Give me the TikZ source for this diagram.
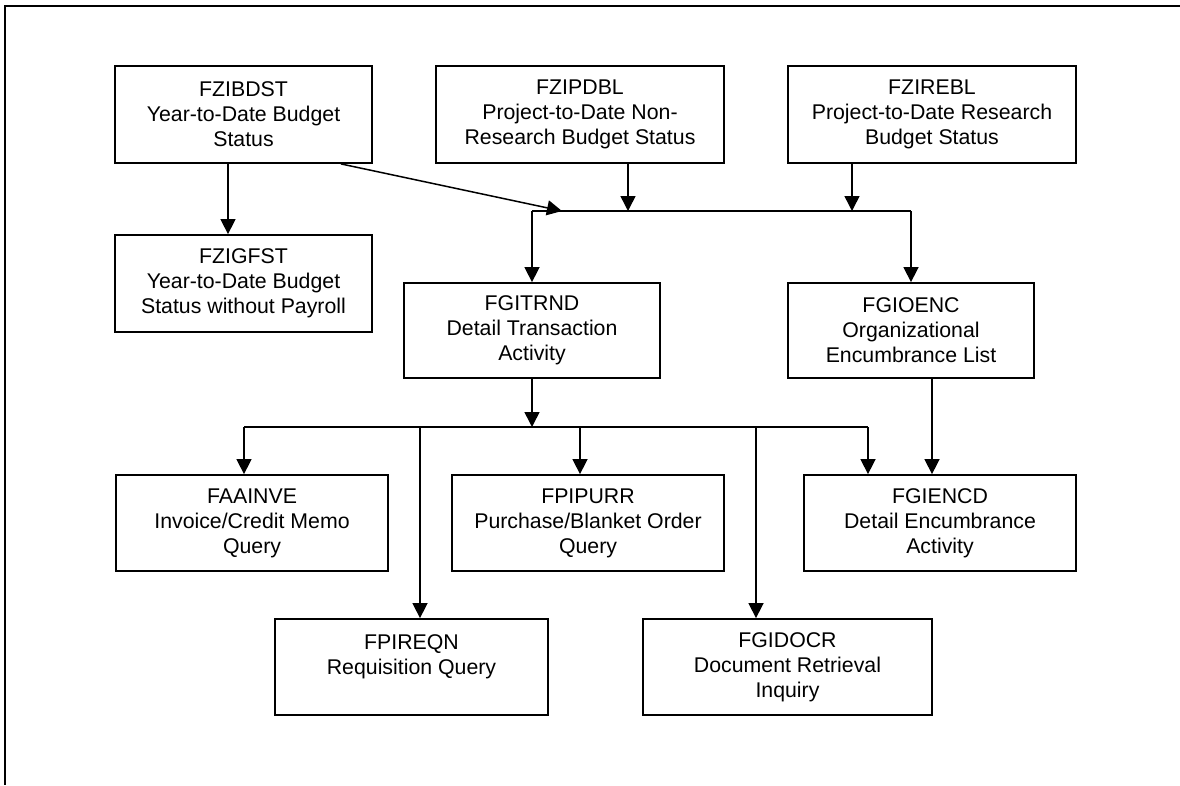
\documentclass[tikz,border=0pt]{standalone}
\usepackage{fontspec}
\setmainfont{Liberation Sans}
\usetikzlibrary{arrows.meta,positioning}

\begin{document}
\begin{tikzpicture}[x=1pt,y=-1pt,
  b/.style={draw,line width=1.8pt,align=center,inner sep=0pt,
            minimum height=97pt,font=\fontsize{21.3}{25}\selectfont},
  r/.style={-{Triangle[length=15pt,width=15pt]},line width=1.5pt},
  l/.style={line width=1.5pt}
]
\useasboundingbox (0,0) rectangle (1180,785);
\draw[line width=1.8pt] (1180,6) -- (5,6) -- (5,785);

% top row
\node[b,minimum width=257pt] (fzibdst) at (243.5,114.5) {FZIBDST\\Year-to-Date Budget\\Status};
\node[b,minimum width=288pt] (fzipdbl) at (580,114.5) {FZIPDBL\\Project-to-Date Non-\\Research Budget Status};
\node[b,minimum width=288pt] (fzirebl) at (932,114.5) {FZIREBL\\Project-to-Date Research\\Budget Status};
\node[b,minimum width=257pt] (fzigfst) at (243.5,283.5) {FZIGFST\\Year-to-Date Budget\\Status without Payroll};

% second row
\node[b,minimum width=256pt,minimum height=95pt] (fgitrnd) at (532,330.5) {FGITRND\\Detail Transaction\\Activity};
\node[b,minimum width=246pt,minimum height=95pt] (fgioenc) at (911,330.5) {FGIOENC\\Organizational\\Encumbrance List};

% third and fourth rows
\node[b,minimum width=272pt,minimum height=96pt] (faainve) at (252,523) {FAAINVE\\Invoice/Credit Memo\\Query};
\node[b,minimum width=272pt,minimum height=96pt] (fpipurr) at (588,523) {FPIPURR\\Purchase/Blanket Order\\Query};
\node[b,minimum width=272pt,minimum height=96pt] (fgiencd) at (940,523) {FGIENCD\\Detail Encumbrance\\Activity};
\node[b,minimum width=273pt,minimum height=96pt] (fpireqn) at (411.5,667) {FPIREQN\\Requisition Query\\\mbox{}};
\node[b,minimum width=289pt,minimum height=96pt] (fgidocr) at (787.5,667) {FGIDOCR\\Document Retrieval\\Inquiry};

% bus points
\coordinate (t1) at (532,211);
\coordinate (t2) at (911,211);
\coordinate (tin) at (562,211);
\coordinate (tpd) at (628,211);
\coordinate (tre) at (852,211);
\coordinate (m0) at (532,427);
\coordinate (m1) at (244,427);
\coordinate (m2) at (420,427);
\coordinate (m3) at (580,427);
\coordinate (m4) at (756,427);
\coordinate (m5) at (868,427);

\draw[r] (fzibdst.south -| 228,0) -- (fzigfst.north -| 228,0);
\draw[r] ([xshift=-32pt]fzibdst.south east) -- (tin);
\draw[r] (fzipdbl.south -| tpd) -- (tpd);
\draw[r] (fzirebl.south -| tre) -- (tre);
\draw[l] (t1) -- (t2);
\draw[r] (t1) -- (fgitrnd.north);
\draw[r] (t2) -- (fgioenc.north);

\draw[r] (fgitrnd.south) -- (m0);
\draw[l] (m1) -- (m5);
\draw[r] (m1) -- (m1 |- faainve.north);
\draw[r] (m2) -- (m2 |- fpireqn.north);
\draw[r] (m3) -- (m3 |- fpipurr.north);
\draw[r] (m4) -- (m4 |- fgidocr.north);
\draw[r] (m5) -- (m5 |- fgiencd.north);
\draw[r] (fgioenc.south -| 932,0) -- (fgiencd.north -| 932,0);
\end{tikzpicture}
\end{document}
